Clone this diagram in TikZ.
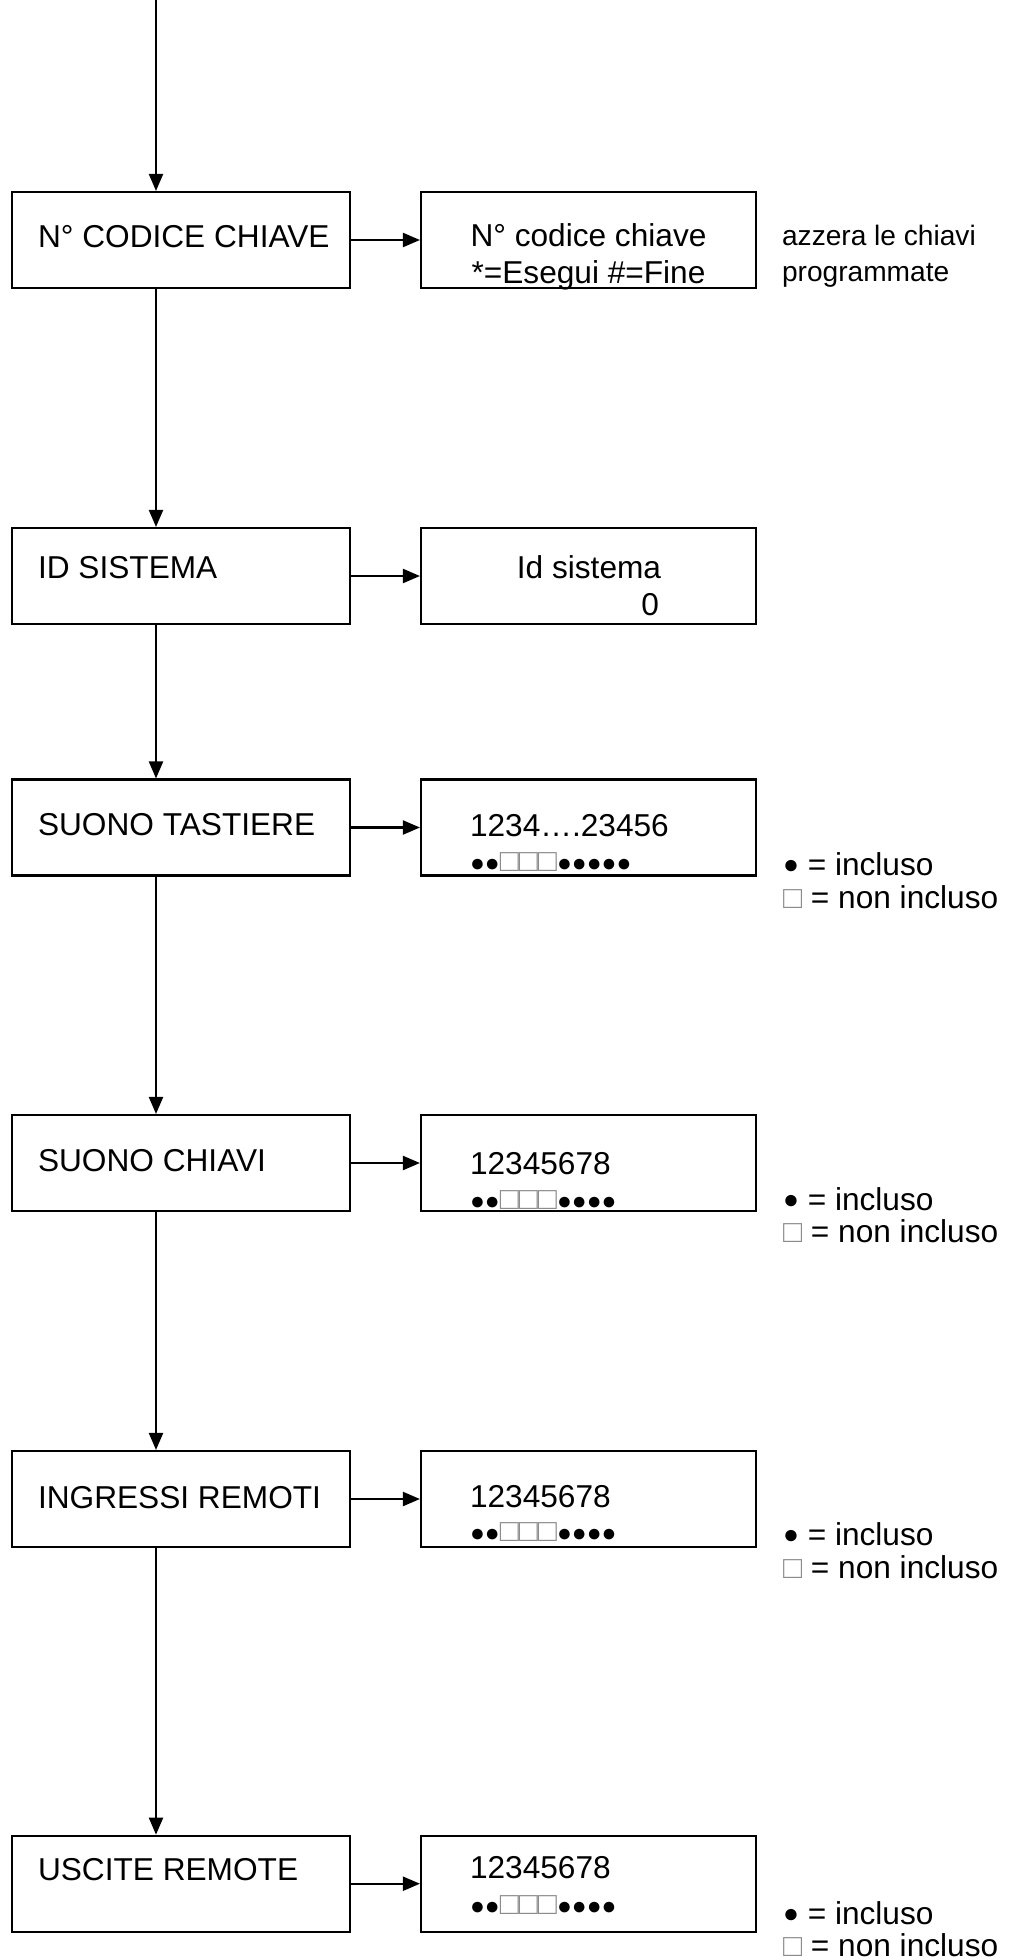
\documentclass[tikz,border=0pt]{standalone}
\usepackage{fontspec}
\setmainfont{Liberation Sans}
\usepackage{xcolor}
\usetikzlibrary{arrows.meta,positioning}
\definecolor{offgray}{gray}{0.55}
\newcommand{\dotin}{{\fontsize{7}{8}\selectfont ●}}
\newcommand{\dotout}{{\fontsize{9}{10}\selectfont\textcolor{offgray}{□}}}
\newcommand{\legdot}{{\fontsize{7.5}{8}\selectfont\raisebox{0.1ex}{●}}}
\newcommand{\dotrow}[1]{\foreach \k in {#1}{\ifnum\k=1 \dotin\else\dotout\fi}}

\begin{document}
\begin{tikzpicture}[font=\fontsize{9}{10.5}\selectfont,>={Triangle[length=0.17cm,width=0.14cm]},
  line width=0.6pt,
  menu/.style={draw,minimum width=3.38cm,minimum height=0.96cm,inner sep=0pt},
  disp/.style={draw,minimum width=3.35cm,minimum height=0.96cm,inner sep=0pt},
  txt/.style={inner sep=0pt,anchor=base west},
  ctxt/.style={inner sep=0pt,anchor=base},
  note/.style={inner sep=0pt,anchor=base west,font=\fontsize{8}{9}\selectfont}]
\useasboundingbox (0,0) rectangle (10.15,-19.6);
\coordinate (top) at (1.56,0);
% menu column
\node[menu] (b1) at (1.81,-2.40) {};
\node[menu] (b2) at (1.81,-5.76) {};
\node[menu] (b3) at (1.81,-8.275) {};
\node[menu] (b4) at (1.81,-11.63) {};
\node[menu] (b5) at (1.81,-14.99) {};
\node[menu] (b6) at (1.81,-18.837) {};
\node[txt] (t1) at (0.37,-2.47) {N° CODICE CHIAVE};
\node[txt] (t2) at (0.37,-5.78) {ID SISTEMA};
\node[txt] (t3) at (0.37,-8.35) {SUONO TASTIERE};
\node[txt] (t4) at (0.37,-11.71) {SUONO CHIAVI};
\node[txt] (t5) at (0.37,-15.08) {INGRESSI REMOTI};
\node[txt] (t6) at (0.37,-18.80) {USCITE REMOTE};
% display column
\node[disp] (r1) at (5.885,-2.40) {};
\node[disp] (r2) at (5.885,-5.76) {};
\node[disp] (r3) at (5.885,-8.275) {};
\node[disp] (r4) at (5.885,-11.63) {};
\node[disp] (r5) at (5.885,-14.99) {};
\node[disp] (r6) at (5.885,-18.837) {};
\node[ctxt] (r1a) at (5.885,-2.46) {N° codice chiave};
\node[ctxt] (r1b) at (5.885,-2.83) {*=Esegui \#=Fine};
\node[ctxt] (r2a) at (5.89,-5.78) {Id sistema};
\node[inner sep=0pt,anchor=base east] (r2b) at (6.60,-6.15) {0};
\node[txt] (r3a) at (4.69,-8.36) {1234….23456};
\node[txt] (r3b) at (4.69,-8.71) {\dotrow{1,1,0,0,0,1,1,1,1,1}};
\node[txt] (r4a) at (4.69,-11.74) {12345678};
\node[txt] (r4b) at (4.69,-12.09) {\dotrow{1,1,0,0,0,1,1,1,1}};
\node[txt] (r5a) at (4.69,-15.07) {12345678};
\node[txt] (r5b) at (4.69,-15.41) {\dotrow{1,1,0,0,0,1,1,1,1}};
\node[txt] (r6a) at (4.69,-18.78) {12345678};
\node[txt] (r6b) at (4.69,-19.14) {\dotrow{1,1,0,0,0,1,1,1,1}};
% side notes
\node[note] (n1a) at (7.81,-2.45) {azzera le chiavi};
\node[note] (n1b) at (7.81,-2.81) {programmate};
\node[txt] (l3a) at (7.82,-8.75) {\legdot{} = incluso};
\node[txt] (l3b) at (7.82,-9.08) {\textcolor{offgray}{□} = non incluso};
\node[txt] (l4a) at (7.82,-12.10) {\legdot{} = incluso};
\node[txt] (l4b) at (7.82,-12.42) {\textcolor{offgray}{□} = non incluso};
\node[txt] (l5a) at (7.82,-15.45) {\legdot{} = incluso};
\node[txt] (l5b) at (7.82,-15.78) {\textcolor{offgray}{□} = non incluso};
\node[txt] (l6a) at (7.82,-19.24) {\legdot{} = incluso};
\node[txt] (l6b) at (7.82,-19.56) {\textcolor{offgray}{□} = non incluso};
% connectors
\draw[->] (top) -- (top |- b1.north);
\draw[->] (b1.south -| top) -- (b2.north -| top);
\draw[->] (b2.south -| top) -- (b3.north -| top);
\draw[->] (b3.south -| top) -- (b4.north -| top);
\draw[->] (b4.south -| top) -- (b5.north -| top);
\draw[->] (b5.south -| top) -- (b6.north -| top);
\draw[->] (b1) -- (r1); \draw[->] (b2) -- (r2); \draw[->] (b3) -- (r3);
\draw[->] (b4) -- (r4); \draw[->] (b5) -- (r5); \draw[->] (b6) -- (r6);
\end{tikzpicture}
\end{document}
